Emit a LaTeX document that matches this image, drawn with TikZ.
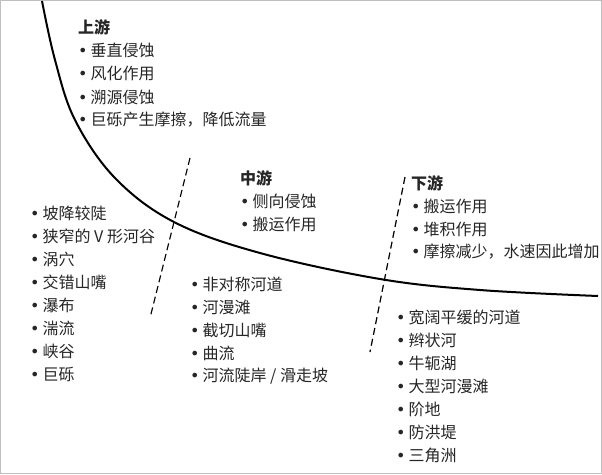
\documentclass[tikz,border=0pt]{standalone}
\usepackage{fontspec}
\setmainfont{Noto Sans CJK SC}
\newfontfamily\bulfont{DejaVu Sans}
\newcommand{\bl}{{\bulfont •}\hspace{3pt}}
\begin{document}
\begin{tikzpicture}[x=1pt,y=-1pt,
  txt/.style={anchor=west,inner sep=0pt,font=\fontsize{16}{18}\selectfont,text=black!85},
  ttl/.style={txt,font=\fontsize{16}{18}\selectfont\bfseries},
  dash line/.style={dash pattern=on 7pt off 4pt,line width=1.2pt},
  river/.style={line width=2pt}]
\draw[black!25,fill=white] (0.5,0.5) rectangle (601.5,473.5);
\useasboundingbox (0,0) rectangle (602,474);
\draw[river] plot[smooth,tension=0.6] coordinates {(42,1) (55,60) (75,120) (115,178) (174,222) (260,253) (380,279) (480,290) (598,296)};
\coordinate (d1a) at (190,158); \coordinate (d1b) at (150,318);
\coordinate (d2a) at (405,177); \coordinate (d2b) at (370,352);
\draw[dash line] (d1a) -- (d1b);
\draw[dash line] (d2a) -- (d2b);
\node[ttl] (u0) at (78,27) {上游};
\node[txt] (u1) at (78,50) {\bl 垂直侵蚀};
\node[txt] (u2) at (78,73) {\bl 风化作用};
\node[txt] (u3) at (78,97) {\bl 溯源侵蚀};
\node[txt] (u4) at (78,120) {\bl 巨砾产生摩擦，降低流量};
\node[ttl] (m0) at (240,178) {中游};
\node[txt] (m1) at (240,201) {\bl 侧向侵蚀};
\node[txt] (m2) at (240,224) {\bl 搬运作用};
\node[ttl] (l0) at (411,183) {下游};
\node[txt] (l1) at (411,206) {\bl 搬运作用};
\node[txt] (l2) at (411,229) {\bl 堆积作用};
\node[txt] (l3) at (411,252) {\bl 摩擦减少，水速因此增加};
\node[txt] (a1) at (30,213) {\bl 坡降较陡};
\node[txt] (a2) at (30,236) {\bl 狭窄的 V 形河谷};
\node[txt] (a3) at (30,259) {\bl 涡穴};
\node[txt] (a4) at (30,282) {\bl 交错山嘴};
\node[txt] (a5) at (30,305) {\bl 瀑布};
\node[txt] (a6) at (30,328) {\bl 湍流};
\node[txt] (a7) at (30,351) {\bl 峡谷};
\node[txt] (a8) at (30,374) {\bl 巨砾};
\node[txt] (b1) at (190,284) {\bl 非对称河道};
\node[txt] (b2) at (190,307) {\bl 河漫滩};
\node[txt] (b3) at (190,330) {\bl 截切山嘴};
\node[txt] (b4) at (190,353) {\bl 曲流};
\node[txt] (b5) at (190,376) {\bl 河流陡岸 / 滑走坡};
\node[txt] (c1) at (396,317) {\bl 宽阔平缓的河道};
\node[txt] (c2) at (396,340) {\bl 辫状河};
\node[txt] (c3) at (396,363) {\bl 牛轭湖};
\node[txt] (c4) at (396,386) {\bl 大型河漫滩};
\node[txt] (c5) at (396,409) {\bl 阶地};
\node[txt] (c6) at (396,432) {\bl 防洪堤};
\node[txt] (c7) at (396,455) {\bl 三角洲};
\end{tikzpicture}
\end{document}
